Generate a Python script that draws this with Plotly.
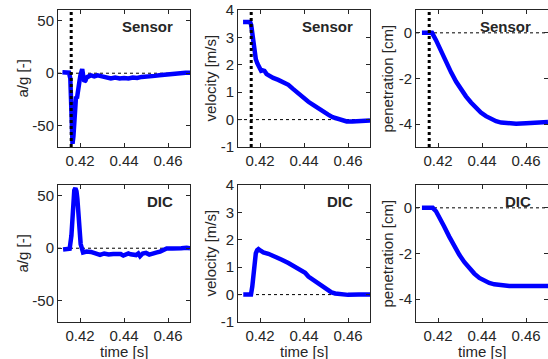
import plotly.graph_objects as go

# ---------------- data ----------------
t_acc_sensor = [0.4120, 0.4130, 0.4140, 0.4150, 0.4156, 0.4160, 0.4163, 0.4166, 0.4170, 0.4174,
                0.4178, 0.4182, 0.4186, 0.4190, 0.4194, 0.4198, 0.4202, 0.4206, 0.4210, 0.4215,
                0.4220, 0.4225, 0.4230, 0.4240, 0.4250, 0.4265, 0.4280, 0.4300, 0.4320, 0.4340,
                0.4360, 0.4380, 0.4400, 0.4420, 0.4440, 0.4460, 0.4480, 0.4500, 0.4520, 0.4540,
                0.4560, 0.4580, 0.4600, 0.4620, 0.4650, 0.4680, 0.4700]
acc_sensor = [1, 1, 1, 0.5, -5, -30, -55, -67, -60, -40,
              -28, -22, -24, -15, -8, -7, -2, 3, 4, -3,
              -8, -7, -4, -3, -2, -3, -2, -3, -4, -5,
              -4, -5, -4.5, -5, -4, -4.5, -3.5, -3.5, -3, -2.5,
              -2, -1.5, -0.5, 0, 0.5, 0.5, 0.5]

t_vel_sensor = [0.4123, 0.4140, 0.4155, 0.4160, 0.4165, 0.4170, 0.4175, 0.4181, 0.4188, 0.4196,
                0.4205, 0.4212, 0.4220, 0.4230, 0.4245, 0.4260, 0.4283, 0.4305, 0.4329, 0.4350,
                0.4374, 0.4398, 0.4420, 0.4445, 0.4465, 0.4489, 0.4510, 0.4530, 0.4550, 0.4570,
                0.4594, 0.4620, 0.4650, 0.4700]
vel_sensor = [3.56, 3.56, 3.56, 3.45, 3.10, 2.65, 2.40, 2.20, 2.05, 1.88,
              1.78, 1.80, 1.78, 1.66, 1.58, 1.52, 1.45, 1.37, 1.27, 1.12,
              0.94, 0.80, 0.65, 0.52, 0.40, 0.30, 0.18, 0.09, 0.03, -0.04,
              -0.07, -0.07, -0.05, -0.03]

t_pen_sensor = [0.4127, 0.4150, 0.4173, 0.4191, 0.4213, 0.4236, 0.4259, 0.4282, 0.4305, 0.4327,
                0.4350, 0.4373, 0.4395, 0.4418, 0.4441, 0.4464, 0.4487, 0.4509, 0.4532, 0.4555,
                0.4600, 0.4650, 0.4700]
pen_sensor = [0, 0, 0, -0.32, -0.80, -1.26, -1.72, -2.13, -2.48, -2.78,
              -3.05, -3.29, -3.49, -3.65, -3.78, -3.87, -3.93, -3.96, -3.98, -3.98,
              -3.96, -3.93, -3.91]

t_acc_dic = [0.4123, 0.4140, 0.4153, 0.4161, 0.4168, 0.4174, 0.4179, 0.4184, 0.4188, 0.4195,
             0.4203, 0.4214, 0.4230, 0.4250, 0.4270, 0.4291, 0.4310, 0.4330, 0.4351, 0.4370,
             0.4385, 0.4397, 0.4410, 0.4420, 0.4430, 0.4442, 0.4455, 0.4465, 0.4473, 0.4485,
             0.4500, 0.4515, 0.4533, 0.4550, 0.4564, 0.4580, 0.4594, 0.4620, 0.4640, 0.4660,
             0.4685, 0.4700]
acc_dic = [-1.2, -1, -0.5, 12, 44, 55, 57, 54, 47, 22,
           4, -4, -3.2, -3.5, -4.5, -6.4, -5, -6, -5.4, -6,
           -5.5, -7, -6, -5, -5.8, -5.8, -6.5, -5, -7.6, -5,
           -4.4, -6, -5.4, -4, -3.2, -2, -0.3, -0.3, -0.6, 0,
           0.4, 0]

t_vel_dic = [0.4124, 0.4140, 0.4159, 0.4165, 0.4170, 0.4176, 0.4181, 0.4187, 0.4193, 0.4203,
             0.4215, 0.4238, 0.4269, 0.4299, 0.4329, 0.4360, 0.4390, 0.4405, 0.4420, 0.4435,
             0.4450, 0.4465, 0.4480, 0.4495, 0.4510, 0.4525, 0.4542, 0.4572, 0.4600, 0.4650,
             0.4700]
vel_dic = [0, 0, 0, 0.30, 0.78, 1.20, 1.51, 1.62, 1.66, 1.60,
           1.54, 1.49, 1.39, 1.27, 1.15, 1.02, 0.88, 0.80, 0.66, 0.58,
           0.47, 0.40, 0.31, 0.22, 0.14, 0.08, 0.04, 0.0, -0.01, 0.0,
           0.0]

t_pen_dic = [0.4127, 0.4150, 0.4176, 0.4191, 0.4206, 0.4228, 0.4251, 0.4274, 0.4297, 0.4320,
             0.4342, 0.4365, 0.4388, 0.4410, 0.4433, 0.4456, 0.4479, 0.4502, 0.4524, 0.4600,
             0.4700]
pen_dic = [0, 0, 0, -0.15, -0.39, -0.82, -1.26, -1.68, -2.06, -2.38,
           -2.64, -2.88, -3.07, -3.20, -3.29, -3.35, -3.39, -3.41, -3.42, -3.42,
           -3.42]

impact_time = 0.416
x_range = [0.41, 0.47]
x_ticks = [0.42, 0.44, 0.46]
x_ticklabels = ["0.42", "0.44", "0.46"]
y_ranges = [[-70, 60], [-1, 4], [-5, 1]]
y_ticks = [[-50, 0, 50], [-1, 0, 1, 2, 3, 4], [-4, -2, 0]]
y_ticklabels = [["-50", "0", "50"], ["-1", "0", "1", "2", "3", "4"], ["-4", "-2", "0"]]
y_titles = ["a/g [-]", "velocity [m/s]", "penetration [cm]"]
row_labels = ["Sensor", "DIC"]
x_title = "time [s]"

series = [
    [(t_acc_sensor, acc_sensor), (t_vel_sensor, vel_sensor), (t_pen_sensor, pen_sensor)],
    [(t_acc_dic, acc_dic), (t_vel_dic, vel_dic), (t_pen_dic, pen_dic)],
]

# ---------------- layout geometry ----------------
W, H = 548, 359
col_px = [(58, 190), (238, 370), (416, 548)]
row_px = [(10, 147), (185, 322)]
ytitle_x = [22, 210, 387]

FONT = "Liberation Sans, Arial, sans-serif"
AX = "#262626"
BLUE = "#0000ff"

fig = go.Figure()
layout = dict(
    width=W, height=H, autosize=False,
    margin=dict(l=0, r=0, t=0, b=0, pad=0),
    paper_bgcolor="white", plot_bgcolor="white",
    showlegend=False,
    font=dict(family=FONT, size=15, color=AX),
)
shapes = []
annotations = []

for r in range(2):
    for c in range(3):
        idx = r * 3 + c + 1
        xa = "x" if idx == 1 else f"x{idx}"
        ya = "y" if idx == 1 else f"y{idx}"
        xkey = "xaxis" if idx == 1 else f"xaxis{idx}"
        ykey = "yaxis" if idx == 1 else f"yaxis{idx}"
        x0, x1 = col_px[c]
        y0, y1 = row_px[r]
        layout[xkey] = dict(
            domain=[x0 / W, min(x1 / W, 1.0)], range=x_range, anchor=ya,
            tickmode="array", tickvals=x_ticks, ticktext=x_ticklabels,
            ticks="inside", ticklen=4, tickcolor=AX, tickwidth=1,
            showline=True, linecolor=AX, linewidth=1, mirror="ticks",
            showgrid=False, zeroline=False, automargin=False,
            tickfont=dict(family=FONT, size=15, color=AX),
        )
        layout[ykey] = dict(
            domain=[1 - y1 / H, 1 - y0 / H], range=y_ranges[c], anchor=xa,
            tickmode="array", tickvals=y_ticks[c], ticktext=y_ticklabels[c],
            ticks="inside", ticklen=4, tickcolor=AX, tickwidth=1,
            showline=True, linecolor=AX, linewidth=1, mirror="ticks",
            showgrid=False, zeroline=False, automargin=False,
            tickfont=dict(family=FONT, size=15, color=AX),
        )
        # zero reference line
        shapes.append(dict(type="line", xref=f"{xa} domain", yref=ya,
                           x0=0, x1=1, y0=0, y1=0, layer="below",
                           line=dict(color="black", width=1, dash="dot")))
        if r == 0:
            shapes.append(dict(type="line", xref=xa, yref=f"{ya} domain",
                               x0=impact_time, x1=impact_time, y0=0, y1=1, layer="above",
                               line=dict(color="black", width=3, dash="dot")))
        tx, ty = series[r][c]
        fig.add_trace(go.Scatter(x=tx, y=ty, xaxis=xa, yaxis=ya, mode="lines",
                                 line=dict(color=BLUE, width=4.5), hoverinfo="skip"))
        annotations.append(dict(text=f"<b>{row_labels[r]}</b>", xref=f"{xa} domain",
                                yref=f"{ya} domain", x=1, y=1, xanchor="right",
                                yanchor="middle", xshift=-15, yshift=-16, showarrow=False,
                                font=dict(family=FONT, size=15, color=AX)))
        annotations.append(dict(text=y_titles[c], xref="paper", yref="paper",
                                x=ytitle_x[c] / W, y=1 - (y0 + y1) / 2 / H,
                                xanchor="center", yanchor="middle", textangle=-90,
                                showarrow=False, font=dict(family=FONT, size=15, color=AX)))
        if r == 1:
            annotations.append(dict(text=x_title, xref="paper", yref="paper",
                                    x=(x0 + x1) / 2 / W, y=1 - 351 / H,
                                    xanchor="center", yanchor="middle",
                                    showarrow=False, font=dict(family=FONT, size=15, color=AX)))

layout["shapes"] = shapes
layout["annotations"] = annotations
fig.update_layout(**layout)
fig.write_html(
    "out.html",
    config={"displayModeBar": False},
    post_script="document.body.style.margin='0';document.body.style.overflow='hidden';",
)
